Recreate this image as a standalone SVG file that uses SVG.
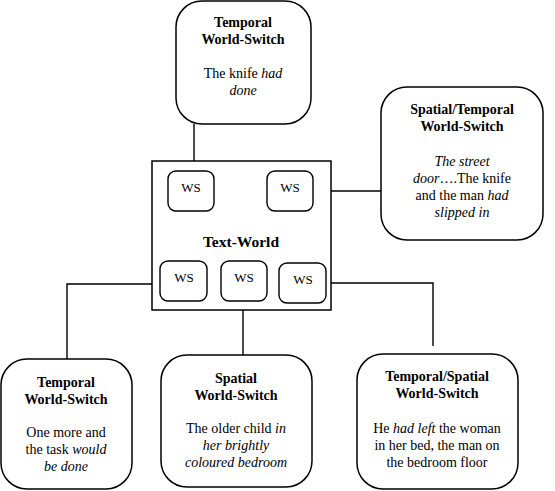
<svg xmlns="http://www.w3.org/2000/svg" width="555" height="491" viewBox="0 0 555 491">
<style>
.box{fill:#fff;stroke:#000;stroke-width:1.5}
.ws{fill:#fff;stroke:#000;stroke-width:1.4}
.con{fill:none;stroke:#000;stroke-width:1.4}
text{font-family:"Liberation Serif","Times New Roman",serif;font-size:14px;fill:#000;text-anchor:middle}
.b{font-weight:bold}
.i{font-style:italic}
.wst{font-size:13px}
.tw{font-size:15.5px;font-weight:bold}
</style>
<rect width="555" height="491" fill="#fff"/>
<g id="connectors">
<polyline class="con" points="194,124 194,171"/>
<polyline class="con" points="313,191 381,191"/>
<polyline class="con" points="160,284 67,284 67,359"/>
<polyline class="con" points="243,301 243,355"/>
<polyline class="con" points="326,283 433,283 433,346"/>
</g>
<g id="text-world">
<rect class="box" x="152" y="161" width="179" height="149"/>
<text class="tw" x="241" y="247">Text-World</text>
</g>
<g id="ws1"><rect class="ws" x="168" y="171" width="46" height="40" rx="8"/><text class="wst" x="191" y="192">WS</text></g>
<g id="ws2"><rect class="ws" x="267" y="171" width="46" height="40" rx="8"/><text class="wst" x="290" y="192">WS</text></g>
<g id="ws3"><rect class="ws" x="160" y="261" width="47" height="40" rx="8"/><text class="wst" x="184" y="282">WS</text></g>
<g id="ws4"><rect class="ws" x="221" y="261" width="46" height="40" rx="8"/><text class="wst" x="244" y="282">WS</text></g>
<g id="ws5"><rect class="ws" x="279" y="263" width="47" height="40" rx="8"/><text class="wst" x="303" y="284">WS</text></g>
<g id="top-temporal">
<rect class="box" x="176" y="1" width="135" height="123" rx="26"/>
<text class="b" x="243" y="27">Temporal</text>
<text class="b" x="243" y="44">World-Switch</text>
<text x="243" y="78">The knife <tspan class="i">had</tspan></text>
<text class="i" x="243" y="95">done</text>
</g>
<g id="spatial-temporal">
<rect class="box" x="381" y="87" width="162" height="153" rx="26"/>
<text class="b" x="462" y="114">Spatial/Temporal</text>
<text class="b" x="462" y="131">World-Switch</text>
<text class="i" x="462" y="166">The street</text>
<text x="462" y="183"><tspan class="i">door</tspan>….The knife</text>
<text x="462" y="200">and the man <tspan class="i">had</tspan></text>
<text class="i" x="462" y="217">slipped in</text>
</g>
<g id="bottom-temporal">
<rect class="box" x="1" y="359" width="131" height="130" rx="26"/>
<text class="b" x="66" y="387">Temporal</text>
<text class="b" x="66" y="404">World-Switch</text>
<text x="66" y="437">One more and</text>
<text x="66" y="454">the task <tspan class="i">would</tspan></text>
<text class="i" x="66" y="471">be done</text>
</g>
<g id="bottom-spatial">
<rect class="box" x="161" y="355" width="151" height="132" rx="26"/>
<text class="b" x="236" y="383">Spatial</text>
<text class="b" x="236" y="400">World-Switch</text>
<text x="236" y="433">The older child <tspan class="i">in</tspan></text>
<text class="i" x="236" y="450">her brightly</text>
<text class="i" x="236" y="467">coloured bedroom</text>
</g>
<g id="bottom-temporal-spatial">
<rect class="box" x="357" y="354" width="161" height="135" rx="26"/>
<text class="b" x="437" y="381">Temporal/Spatial</text>
<text class="b" x="437" y="398">World-Switch</text>
<text x="437" y="433">He <tspan class="i">had left</tspan> the woman</text>
<text x="437" y="450">in her bed, the man on</text>
<text x="437" y="467">the bedroom floor</text>
</g>
</svg>
